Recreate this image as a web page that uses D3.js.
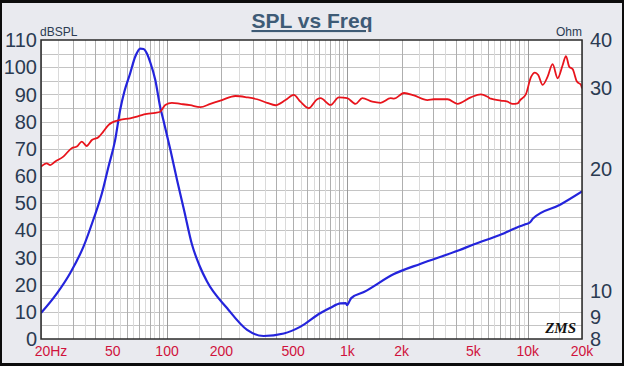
<!DOCTYPE html>
<html>
<head>
<meta charset="utf-8">
<script src="https://cdn.jsdelivr.net/npm/d3@7"></script>
<style>
  html, body { margin: 0; padding: 0; background: #000; }
  svg { display: block; font-family: "Liberation Sans", Arial, sans-serif; }
</style>
</head>
<body>
<div id="chart"></div>
<script>
// SPL response (dB)
const splFreq = [20, 21.5, 22.5, 23.9, 26.6, 29.6, 31.6, 33.7, 35.8, 38.3, 41.6, 44.3, 47.3, 49.4, 54.9, 62.4, 68, 72.5, 77.3, 86, 91.6,
  97.7, 106.4, 118.4, 134.4, 152.8, 173.8, 201.8, 239.4, 278, 315.6, 358.8, 399, 453.6, 504, 549, 611, 680, 710, 806, 897,
  998, 1110, 1210, 1375, 1528, 1738, 1812, 2061, 2340, 2780, 3020, 3590, 4075, 4835, 5495, 5990, 6240, 7096, 7730, 8240,
  8790, 9080, 9772, 10420, 10965, 11436, 12100, 12894, 13740, 14660, 15630, 16300, 16990, 17740, 18750, 19730, 20000];
const splDb = [63.4, 64.6, 64.0, 65.2, 67.1, 70.2, 70.8, 72.6, 71.0, 73.2, 74.2, 76.3, 78.7, 79.6, 80.6, 81.2, 81.8, 82.4, 82.8, 83.2, 83.6,
  86.1, 86.9, 86.5, 86.0, 85.3, 86.5, 87.9, 89.4, 88.9, 88.2, 86.9, 86.0, 87.9, 89.8, 87.3, 84.9, 88.2, 88.6, 86.1, 88.9,
  88.6, 86.5, 88.6, 87.3, 86.9, 88.6, 88.4, 90.5, 89.6, 87.9, 88.2, 88.2, 86.5, 88.9, 90.0, 89.1, 88.4, 87.7, 87.3, 86.5,
  86.7, 87.9, 90.1, 96.3, 98.0, 97.1, 93.5, 96.5, 101.1, 95.9, 100.8, 104.1, 100.2, 99.3, 94.7, 93.5, 92.2];

// impedance (Ohm)
const impFreq = [20, 24.4, 29, 34.4, 39, 43.5, 47.3, 51.5, 54.9, 58, 62.4, 66.5, 71.1, 74, 77.3, 81, 86, 91.6, 95.4,
  104.5, 113.7, 124.3, 137.5, 151, 166.6, 215, 278, 343, 444, 550, 710, 800, 916, 980, 998, 1020, 1050, 1235, 1812,
  2552, 4160, 5000, 7000, 9150, 9800, 10300, 10700, 15200, 20000];
const impOhm = [9.2, 10.2, 11.4, 13.15, 15.2, 17.5, 20.2, 23.3, 27.4, 30.3, 33.4, 36.5, 38.2, 38.1, 37.2, 35.3, 32.3, 27.9, 26.0,
  22.1, 18.8, 16.0, 13.3, 11.9, 10.9, 9.45, 8.4, 8.13, 8.24, 8.55, 9.2, 9.45, 9.69, 9.7, 9.6, 9.75, 9.97, 10.3, 11.35,
  12.0, 12.9, 13.3, 14.0, 14.7, 14.85, 15.0, 15.3, 16.5, 17.7];

// axis ticks
const dbTicks = [0, 10, 20, 30, 40, 50, 60, 70, 80, 90, 100, 110];
const ohmTicks = [8, 9, 10, 20, 30, 40];
const freqTicks = [20, 50, 100, 200, 500, 1000, 2000, 5000, 10000, 20000];
const freqTickLabels = ['20Hz', '50', '100', '200', '500', '1k', '2k', '5k', '10k', '20k'];

// grid
const decades = [10, 100, 1000, 10000];
const majorSteps = [1, 2, 3, 4, 5, 6, 7, 8, 9];
const minorSteps = [1.5, 2.5, 3.5, 4.5, 5.5, 6.5, 7.5, 8.5, 9.5];

const width = 624, height = 366;
const plot = { left: 41, top: 40, right: 582, bottom: 339 };

const svg = d3.select('#chart').append('svg')
    .attr('width', width)
    .attr('height', height);

// frame
svg.append('rect').attr('width', width).attr('height', height).attr('fill', '#0c0c0c');
svg.append('rect')
    .attr('x', 2).attr('y', 3)
    .attr('width', width - 4).attr('height', height - 6)
    .attr('fill', '#e9eaef');

const x = d3.scaleLog().domain([20, 20000]).range([plot.left, plot.right]);
const yDb = d3.scaleLinear().domain([0, 110]).range([plot.bottom, plot.top]);
const yOhm = d3.scaleLog().domain([8, 40]).range([plot.bottom, plot.top]);

svg.append('rect')
    .attr('x', plot.left).attr('y', plot.top)
    .attr('width', plot.right - plot.left).attr('height', plot.bottom - plot.top)
    .attr('fill', '#fff');

// grid lines
const grid = svg.append('g');
const inDomain = f => f >= 20 && f <= 20000;
const minorFreqs = decades.flatMap(d => minorSteps.map(s => d * s)).filter(inDomain);
const majorFreqs = decades.flatMap(d => majorSteps.map(s => d * s)).filter(inDomain);

grid.selectAll('.hgrid')
    .data(d3.range(5, 110, 5))
    .enter().append('line')
    .attr('x1', plot.left).attr('x2', plot.right)
    .attr('y1', d => Math.round(yDb(d)) + 0.5).attr('y2', d => Math.round(yDb(d)) + 0.5)
    .attr('stroke', '#c4c4c4').attr('stroke-width', 1);

grid.selectAll('.vminor')
    .data(minorFreqs)
    .enter().append('line')
    .attr('x1', d => Math.round(x(d)) + 0.5).attr('x2', d => Math.round(x(d)) + 0.5)
    .attr('y1', plot.top).attr('y2', plot.bottom)
    .attr('stroke', '#dadada').attr('stroke-width', 1);

grid.selectAll('.vmajor')
    .data(majorFreqs)
    .enter().append('line')
    .attr('x1', d => Math.round(x(d)) + 0.5).attr('x2', d => Math.round(x(d)) + 0.5)
    .attr('y1', plot.top).attr('y2', plot.bottom)
    .attr('stroke', d => decades.includes(d) ? '#9a9a9a' : '#afafaf')
    .attr('stroke-width', 1);

// curves
svg.append('clipPath').attr('id', 'clip')
    .append('rect')
    .attr('x', plot.left).attr('y', plot.top)
    .attr('width', plot.right - plot.left).attr('height', plot.bottom - plot.top);

const curves = svg.append('g').attr('clip-path', 'url(#clip)');

const splLine = d3.line()
    .x(i => x(splFreq[i]))
    .y(i => yDb(splDb[i]))
    .curve(d3.curveMonotoneX);

const impLine = d3.line()
    .x(i => x(impFreq[i]))
    .y(i => yOhm(impOhm[i]))
    .curve(d3.curveMonotoneX);

curves.append('path')
    .attr('d', impLine(d3.range(impFreq.length)))
    .attr('fill', 'none')
    .attr('stroke', '#2424dc')
    .attr('stroke-width', 2.2);

curves.append('path')
    .attr('d', splLine(d3.range(splFreq.length)))
    .attr('fill', 'none')
    .attr('stroke', '#e8141c')
    .attr('stroke-width', 1.8);

// plot border
svg.append('rect')
    .attr('x', plot.left).attr('y', plot.top)
    .attr('width', plot.right - plot.left).attr('height', plot.bottom - plot.top)
    .attr('fill', 'none')
    .attr('stroke', '#2a2a2a')
    .attr('stroke-width', 1.5);

// left axis labels
svg.append('g').selectAll('text')
    .data(dbTicks)
    .enter().append('text')
    .attr('x', 37)
    .attr('y', d => yDb(d))
    .attr('dy', '0.36em')
    .attr('text-anchor', 'end')
    .attr('font-size', 20)
    .attr('fill', '#2b3b52')
    .text(d => d);

// right axis labels (10 and 30 sit a little above their grid value in the original)
const ohmLabelNudge = { 10: -7, 30: -6 };
svg.append('g').selectAll('text')
    .data(ohmTicks)
    .enter().append('text')
    .attr('x', 590)
    .attr('y', d => yOhm(d) + (ohmLabelNudge[d] || 0))
    .attr('dy', '0.36em')
    .attr('font-size', 20)
    .attr('fill', '#2b3b52')
    .text(d => d);

// frequency labels
svg.append('g').selectAll('text')
    .data(freqTicks)
    .enter().append('text')
    .attr('x', d => x(d))
    .attr('dx', (d, i) => i === 0 ? 10 : 0)
    .attr('y', 356)
    .attr('text-anchor', 'middle')
    .attr('font-size', 14)
    .attr('fill', '#d0123c')
    .text((d, i) => freqTickLabels[i]);

// unit labels
svg.append('text')
    .attr('x', 40).attr('y', 36)
    .attr('font-size', 12)
    .attr('fill', '#2b3b52')
    .text('dBSPL');

svg.append('text')
    .attr('x', plot.right).attr('y', 36)
    .attr('text-anchor', 'end')
    .attr('font-size', 12)
    .attr('fill', '#2b3b52')
    .text('Ohm');

// title
svg.append('text')
    .attr('x', 312).attr('y', 28)
    .attr('text-anchor', 'middle')
    .attr('font-size', 21)
    .attr('font-weight', 'bold')
    .attr('fill', '#3e5b76')
    .attr('text-decoration', 'underline')
    .text('SPL vs Freq');

// ZMS mark
svg.append('text')
    .attr('x', 576).attr('y', 333)
    .attr('text-anchor', 'end')
    .attr('font-size', 15)
    .attr('font-style', 'italic')
    .attr('font-weight', 'bold')
    .attr('font-family', '"Liberation Serif", serif')
    .attr('fill', '#111')
    .text('ZMS');
</script>
</body>
</html>
